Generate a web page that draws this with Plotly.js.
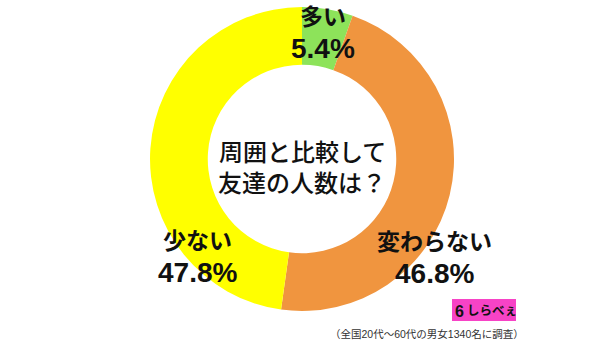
<!DOCTYPE html>
<html>
<head>
<meta charset="utf-8">
<script src="https://cdn.plot.ly/plotly-3.0.1.min.js"></script>
<style>html,body{margin:0;padding:0;background:#fff;}#chart{width:600px;height:343px;}</style>
</head>
<body>
<div id="chart"></div>
<script>
const categories = ["多い", "変わらない", "少ない"];
const percentages = [5.4, 46.8, 47.8];
const sliceColors = ["#8de35a", "#f0953f", "#ffff00"];
const centerTitle = ["周囲と比較して", "友達の人数は？"];
const footnote = "（全国20代～60代の男女1340名に調査）";
const logoText = "しらべぇ";

const JP = "'Liberation Sans', 'Noto Sans CJK JP', sans-serif";
const NUM = "'Liberation Sans', Arial, sans-serif";

const trace = {
  type: "pie",
  labels: categories,
  values: percentages,
  marker: {colors: sliceColors, line: {width: 0}},
  hole: 0.62,
  sort: false,
  direction: "clockwise",
  rotation: 0,
  textinfo: "none",
  hoverinfo: "none",
  showlegend: false,
  domain: {x: [0.25, 0.7567], y: [0.0933, 0.9796]}
};

// label positions (pixels): x, label y, percent y
const labelPos = [[323, 17, 48], [434, 242, 273], [197, 241, 272]];
const annotations = [];
categories.forEach((c, i) => {
  const [px, y1, y2] = labelPos[i];
  annotations.push({x: px/600, y: 1 - y1/343, xref: "paper", yref: "paper", text: c, showarrow: false, borderpad: 0,
    font: {family: JP, size: 23, color: "#111", weight: 700}, xanchor: "center", yanchor: "middle"});
  annotations.push({x: px/600, y: 1 - y2/343, xref: "paper", yref: "paper", text: percentages[i].toFixed(1) + "%", showarrow: false, borderpad: 0,
    font: {family: NUM, size: 28, color: "#111", weight: 700}, xanchor: "center", yanchor: "middle"});
});
centerTitle.forEach((t, i) => {
  annotations.push({x: 302/600, y: 1 - (152 + i*31)/343, xref: "paper", yref: "paper", text: t, showarrow: false, borderpad: 0,
    font: {family: JP, size: 24, color: "#111", weight: 500}, xanchor: "center", yanchor: "middle"});
});
annotations.push({x: 526/600, y: 1 - 334/343, xref: "paper", yref: "paper", text: footnote, showarrow: false,
  font: {family: JP, size: 10.5, color: "#333"}, xanchor: "right", yanchor: "middle"});
annotations.push({x: 466/600, y: 1 - 311/343, xref: "paper", yref: "paper", text: "<b>" + logoText + "</b>", showarrow: false, borderpad: 0,
  font: {family: JP, size: 12.5, color: "#111"}, xanchor: "left", yanchor: "middle"});
annotations.push({x: 459/600, y: 1 - 311/343, xref: "paper", yref: "paper", text: "<b>6</b>", showarrow: false, borderpad: 0,
  font: {family: NUM, size: 16, color: "#111"}, xanchor: "center", yanchor: "middle"});

const layout = {
  width: 600, height: 343,
  margin: {l: 0, r: 0, t: 0, b: 0},
  paper_bgcolor: "#fff",
  plot_bgcolor: "#fff",
  annotations: annotations,
  shapes: [{type: "rect", xref: "paper", yref: "paper", x0: 452/600, x1: 516/600, y0: 1 - 321/343, y1: 1 - 299/343,
    fillcolor: "#f743c6", line: {width: 0}, layer: "below"}]
};

Plotly.newPlot("chart", [trace], layout, {staticPlot: true, displayModeBar: false});
</script>
</body>
</html>
